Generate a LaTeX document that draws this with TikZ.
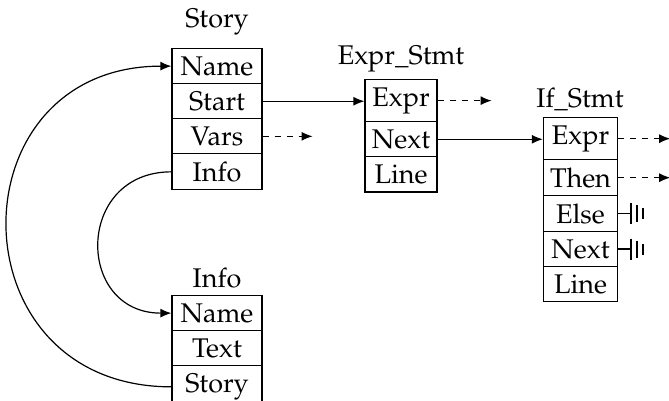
\documentclass[tikz,border=0pt]{standalone}
\usepackage[T1]{fontenc}
\usepackage{mathpazo}
\usepackage{tikz}
\usetikzlibrary{shapes.multipart,arrows.meta}

\tikzset{
  record/.style={rectangle split,draw,anchor=north,inner ysep=3.65pt},
  title/.style={anchor=base,inner sep=0pt},
  ptr/.style={-{Latex[length=5.5pt,width=4.5pt]}},
  nil/.style={ptr,dashed},
}

\begin{document}
\begin{tikzpicture}[x=0.5pt,y=-0.5pt,semithick,font=\fontsize{13.5}{16}\selectfont]
	\useasboundingbox (0,0) rectangle (669,401);

	% records
	\node[record,rectangle split parts=4,minimum width=45pt] (story) at (217,48) {Name\nodepart{two}Start\nodepart{three}Vars\nodepart{four}Info};
	\node[title] (storyTitle) at (217,28) {Story};
	\node[record,rectangle split parts=3,minimum width=36pt] (exprStmt) at (401,79) {Expr\nodepart{two}Next\nodepart{three}Line};
	\node[title] (exprTitle) at (401,65) {Expr\_Stmt};
	\node[record,rectangle split parts=5,minimum width=36.5pt] (ifStmt) at (580.5,117) {Expr\nodepart{two}Then\nodepart{three}Else\nodepart{four}Next\nodepart{five}Line};
	\node[title] (ifTitle) at (580,108) {If\_Stmt};
	\node[record,rectangle split parts=3,minimum width=45pt] (info) at (217,295) {Name\nodepart{two}Text\nodepart{three}Story};
	\node[title] (infoTitle) at (217,287) {Info};

\draw[ptr](story.two east) -- (story.two east -| exprStmt.one west);
\draw[ptr](exprStmt.two east) -- (exprStmt.two east -| ifStmt.one west);
\draw[nil](story.three east) -- ++(50,0);
\draw[nil](exprStmt.one east) -- ++(54,0);
\draw[nil](ifStmt.one east) -- ++(52,0);
\draw[nil](ifStmt.two east) -- ++(52,0);

% null pointers
\draw[thick] (ifStmt.three east) -- ++(13,0) ++(0,-10.5) -- ++(0,21) ++(6,-19) -- ++(0,17) ++(6,-14) -- ++(0,11);
\draw[thick] (ifStmt.four east) -- ++(13,0) ++(0,-10.5) -- ++(0,21) ++(6,-19) -- ++(0,17) ++(6,-14) -- ++(0,11);

\draw[ptr](story.four west) to[out=180,in=180,looseness=1.75] (info.one west);
\draw[ptr](info.three west) to[out=180,in=180,looseness=1.75] (story.one west);

\end{tikzpicture}
\end{document}
